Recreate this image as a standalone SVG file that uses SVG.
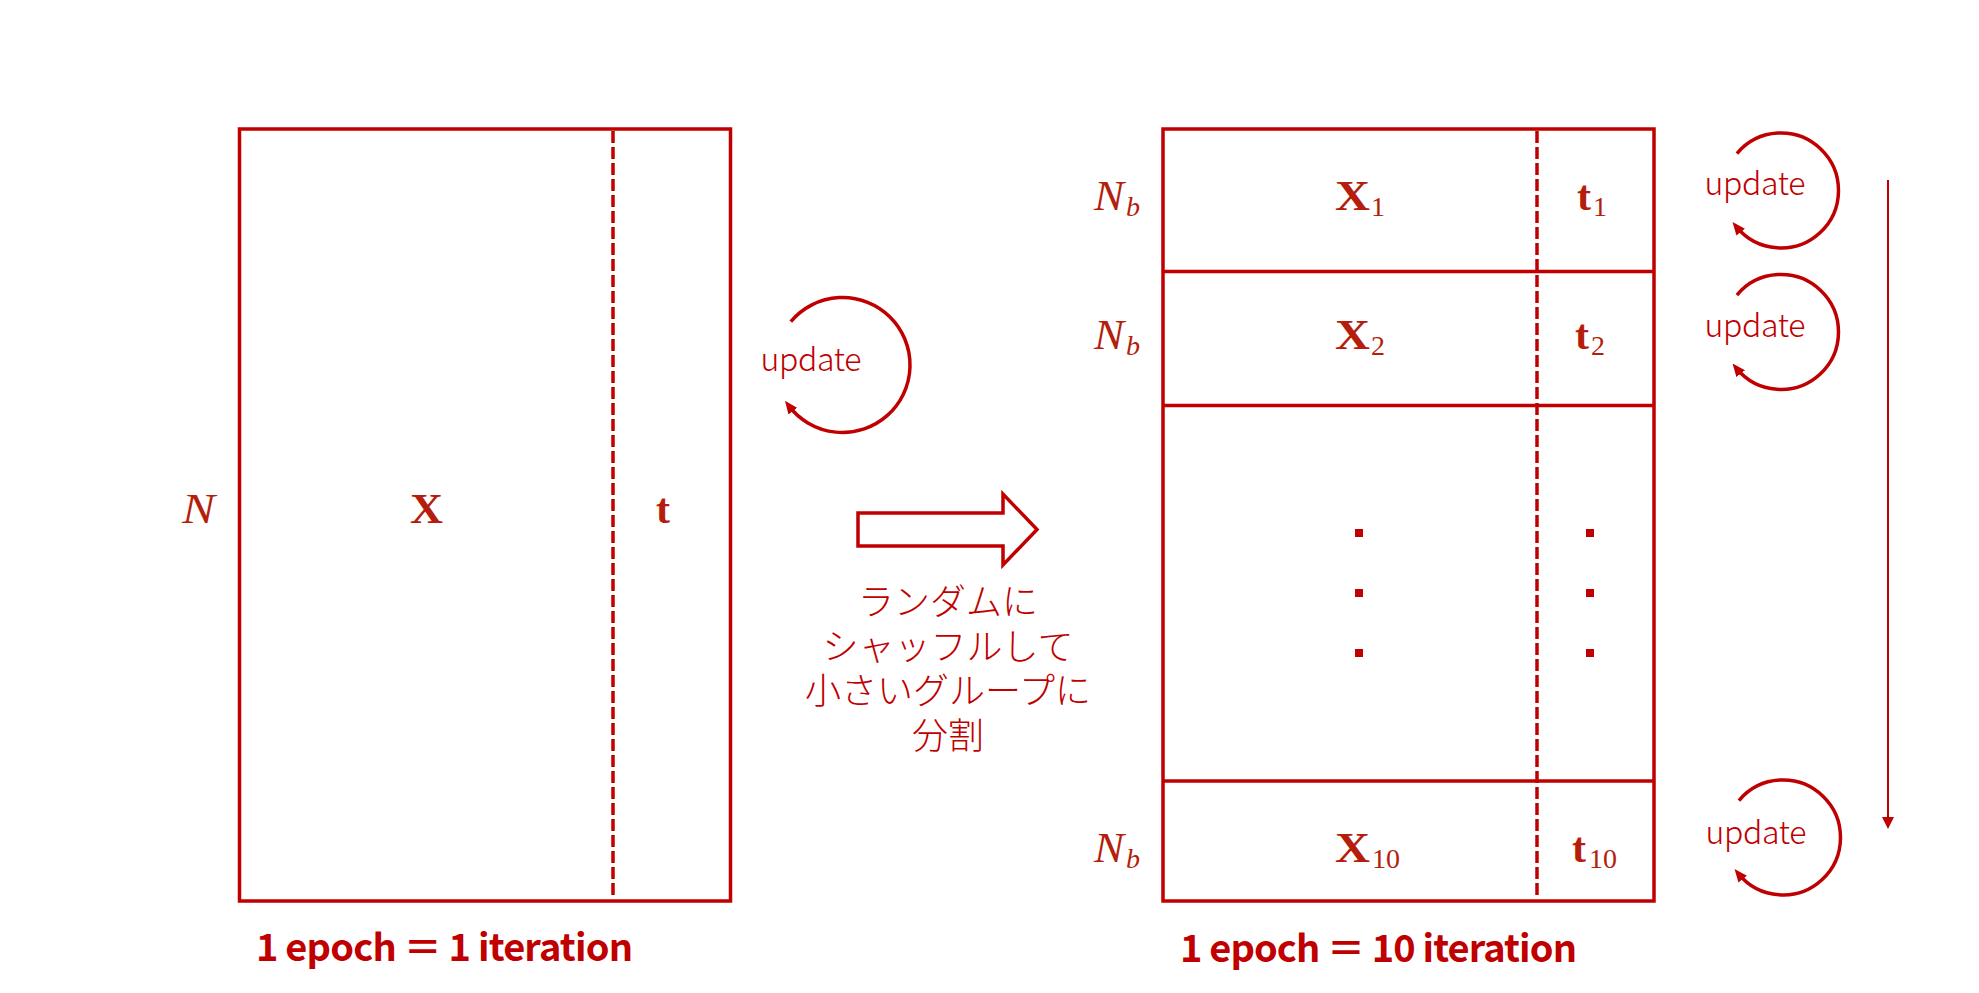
<svg xmlns="http://www.w3.org/2000/svg" width="1979" height="993" viewBox="0 0 1979 993">
<defs>
<style>
.box{fill:none;stroke:#C00000;stroke-width:3.5}
.dash{fill:none;stroke:#C00000;stroke-width:3.5;stroke-dasharray:12 4}
.loop{fill:none;stroke:#C00000;stroke-width:3.5}
.math{font-family:"Liberation Serif","DejaVu Serif",serif;fill:#B51E0C}
.mi{font-style:italic;font-size:42px}
.mb{font-weight:bold;font-size:42px}
.sub{font-size:28px}
.upd{font-family:"Noto Sans CJK JP","Noto Sans",sans-serif;font-weight:300;font-size:32px;fill:#C00000;text-anchor:middle}
.jp{font-family:"Noto Sans CJK JP",sans-serif;font-weight:300;font-size:36px;fill:#C00000;text-anchor:middle}
.lbl{font-family:"Noto Sans CJK JP","Noto Sans",sans-serif;font-weight:bold;font-size:38px;fill:#C00000}
.dot{fill:#C00000}
</style>
<marker id="ah" viewBox="0 0 13 11" refX="7" refY="5.5" markerWidth="13" markerHeight="11" markerUnits="userSpaceOnUse" orient="auto">
<path d="M0,0 L13,5.5 L0,11 z" fill="#C00000"/>
</marker>
</defs>
<rect width="1979" height="993" fill="#FFFFFF"/>

<g id="full-data">
<rect class="box" x="239.5" y="129" width="491" height="772"/>
<line class="dash" x1="613" y1="131" x2="613" y2="899"/>
<text class="math mi" x="182" y="523" textLength="33" lengthAdjust="spacingAndGlyphs">N</text>
<text class="math mb" x="410" y="523" textLength="33" lengthAdjust="spacingAndGlyphs">X</text>
<text class="math mb" x="656" y="523">t</text>
</g>

<g id="update-left">
<path class="loop" d="M790.8,321.6 A67.5,67.5 0 1 1 788.6,405.6" marker-end="url(#ah)"/>
<text class="upd" x="811" y="370.5" textLength="101">update</text>
</g>

<g id="shuffle-arrow">
<polygon points="858,513 1003,513 1003,494 1037,529.5 1003,565 1003,546 858,546" fill="#FFFFFF" stroke="#C00000" stroke-width="3.5"/>
<text class="jp" x="948" y="615">ランダムに</text>
<text class="jp" x="948" y="659.5">シャッフルして</text>
<text class="jp" x="948" y="704">小さいグループに</text>
<text class="jp" x="948" y="748.5">分割</text>
</g>

<g id="mini-batches">
<rect class="box" x="1163" y="129" width="491" height="772"/>
<line class="box" x1="1163" y1="271.5" x2="1654" y2="271.5"/>
<line class="box" x1="1163" y1="405.5" x2="1654" y2="405.5"/>
<line class="box" x1="1163" y1="781" x2="1654" y2="781"/>
<line class="dash" x1="1537" y1="131" x2="1537" y2="899"/>

<text class="math mi" x="1094" y="210" textLength="30" lengthAdjust="spacingAndGlyphs">N</text>
<text class="math mi sub" x="1126" y="216" font-size="29">b</text>
<text class="math mb" x="1335" y="210" textLength="35" lengthAdjust="spacingAndGlyphs">X</text>
<text class="math sub" x="1371" y="216">1</text>
<text class="math mb" x="1577" y="210">t</text>
<text class="math sub" x="1593" y="216">1</text>

<text class="math mi" x="1094" y="349" textLength="30" lengthAdjust="spacingAndGlyphs">N</text>
<text class="math mi sub" x="1126" y="355" font-size="29">b</text>
<text class="math mb" x="1335" y="349" textLength="35" lengthAdjust="spacingAndGlyphs">X</text>
<text class="math sub" x="1371" y="355">2</text>
<text class="math mb" x="1575" y="349">t</text>
<text class="math sub" x="1591" y="355">2</text>

<rect class="dot" x="1355" y="529" width="8" height="8"/>
<rect class="dot" x="1355" y="589" width="8" height="8"/>
<rect class="dot" x="1355" y="649" width="8" height="8"/>
<rect class="dot" x="1586" y="529" width="8" height="8"/>
<rect class="dot" x="1586" y="589" width="8" height="8"/>
<rect class="dot" x="1586" y="649" width="8" height="8"/>

<text class="math mi" x="1094" y="862" textLength="30" lengthAdjust="spacingAndGlyphs">N</text>
<text class="math mi sub" x="1126" y="868" font-size="29">b</text>
<text class="math mb" x="1335" y="862" textLength="35" lengthAdjust="spacingAndGlyphs">X</text>
<text class="math sub" x="1372" y="868">10</text>
<text class="math mb" x="1572" y="862">t</text>
<text class="math sub" x="1589" y="868">10</text>
</g>

<g id="update-right-1">
<path class="loop" d="M1736.95,153.54 A57.5,57.5 0 1 1 1736.3,226.7" marker-end="url(#ah)"/>
<text class="upd" x="1755" y="195" textLength="101">update</text>
</g>
<g id="update-right-2">
<path class="loop" d="M1736.95,295.04 A57.5,57.5 0 1 1 1736.3,368.2" marker-end="url(#ah)"/>
<text class="upd" x="1755" y="337" textLength="101">update</text>
</g>
<g id="update-right-3">
<path class="loop" d="M1738.95,800.54 A57.5,57.5 0 1 1 1738.3,873.7" marker-end="url(#ah)"/>
<text class="upd" x="1756" y="843.5" textLength="101">update</text>
</g>

<g id="connectors">
<line x1="1888" y1="180" x2="1888" y2="819" stroke="#C00000" stroke-width="2"/>
<polygon points="1882,817 1894,817 1888,829" fill="#C00000"/>
</g>

<g id="labels">
<text class="lbl" x="256" y="961" textLength="377">1 epoch ＝ 1 iteration</text>
<text class="lbl" x="1180" y="961.5" textLength="397">1 epoch ＝ 10 iteration</text>
</g>
</svg>
